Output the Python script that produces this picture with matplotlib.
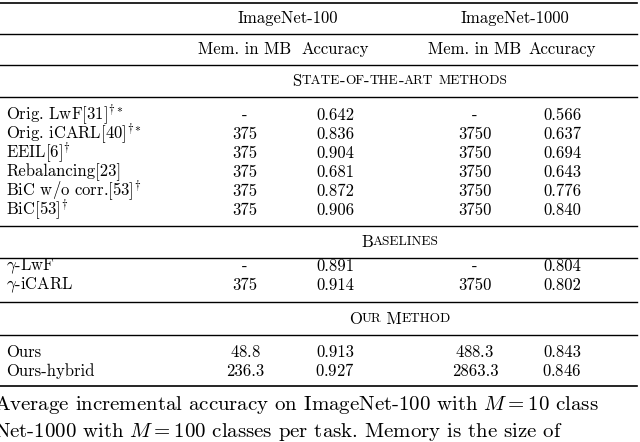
import matplotlib
matplotlib.use("Agg")
import matplotlib.pyplot as plt

plt.rcParams['font.family'] = 'serif'
plt.rcParams['font.serif'] = ['cmr10']
plt.rcParams['mathtext.fontset'] = 'cm'
plt.rcParams['axes.unicode_minus'] = False

FS = 12

# table data
sota_methods = [r"Orig. LwF[31]$^{\dagger*}$", r"Orig. iCARL[40]$^{\dagger*}$", r"EEIL[6]$^{\dagger}$",
                "Rebalancing[23]", r"BiC w/o corr.[53]$^{\dagger}$", r"BiC[53]$^{\dagger}$"]
sota_mem100 = ["-", "375", "375", "375", "375", "375"]
sota_acc100 = ["0.642", "0.836", "0.904", "0.681", "0.872", "0.906"]
sota_mem1000 = ["-", "3750", "3750", "3750", "3750", "3750"]
sota_acc1000 = ["0.566", "0.637", "0.694", "0.643", "0.776", "0.840"]

base_methods = [r"$\gamma$-LwF", r"$\gamma$-iCARL"]
base_mem100 = ["-", "375"]
base_acc100 = ["0.891", "0.914"]
base_mem1000 = ["-", "3750"]
base_acc1000 = ["0.804", "0.802"]

our_methods = ["Ours", "Ours-hybrid"]
our_mem100 = ["48.8", "236.3"]
our_acc100 = ["0.913", "0.927"]
our_mem1000 = ["488.3", "2863.3"]
our_acc1000 = ["0.843", "0.846"]
# which cells are bold (row, col)
our_bold = [(0, 0), (1, 1), (0, 2), (1, 3)]

W, H = 640, 442
fig = plt.figure(figsize=(6.4, 4.42), dpi=100)
fig.patch.set_facecolor('white')


def px(x, y):
    return x / W, 1 - y / H


def txt(x, y, s, ha='left', size=FS):
    fx, fy = px(x, y)
    return fig.text(fx, fy, s, ha=ha, va='center', fontsize=size)


def rule(y, x0=0, x1=637, lw=1.0):
    fx0, fy = px(x0, y)
    fx1, _ = px(x1, y)
    fig.add_artist(plt.Line2D([fx0, fx1], [fy, fy], color='black', lw=lw))


def smallcaps(xc, y, s):
    # split into runs of upper (full size) and lower (small upper)
    runs = []
    for ch in s:
        big = not ch.islower()
        if runs and runs[-1][1] == big:
            runs[-1][0] += ch
        else:
            runs.append([ch, big])
    r = fig.canvas.get_renderer()
    arts = [txt(0, y, t.upper(), size=FS if big else FS * 0.8) for t, big in runs]
    widths = [a.get_window_extent(r).width for a in arts]
    x = xc - sum(widths) / 2
    for a, w in zip(arts, widths):
        a.set_x(x / W)
        x += w


cols = [245, 335, 475, 562]

rule(3, lw=1.2)
txt(288, 18, "ImageNet-100", ha='center')
txt(515, 18, "ImageNet-1000", ha='center')
rule(34, x0=0)
for c, s in zip(cols, ["Mem. in MB", "Accuracy", "Mem. in MB", "Accuracy"]):
    txt(c, 49, s, ha='center')
rule(65)
smallcaps(400, 81, "State-of-the-art methods")
rule(97)


def block(y0, methods, m1, a1, m2, a2, bold=()):
    for i, name in enumerate(methods):
        y = y0 + i * 19
        txt(6, y, name)
        for j, v in enumerate([m1[i], a1[i], m2[i], a2[i]]):
            s = r"$\mathbf{%s}$" % v if (i, j) in bold else v
            txt(cols[j], y, s, ha='center')


block(115, sota_methods, sota_mem100, sota_acc100, sota_mem1000, sota_acc1000)
rule(226)
smallcaps(400, 242, "Baselines")
rule(258)
block(266, base_methods, base_mem100, base_acc100, base_mem1000, base_acc1000)
rule(302)
smallcaps(400, 319, "Our Method")
rule(335)
block(352, our_methods, our_mem100, our_acc100, our_mem1000, our_acc1000, bold=our_bold)
rule(386, lw=1.2)

txt(-6, 405, r"Average incremental accuracy on ImageNet-100 with $M=10$ class", size=15)
txt(-6, 432, r"Net-1000 with $M=100$ classes per task. Memory is the size of", size=15)

fig.savefig("out.png", dpi=100)
